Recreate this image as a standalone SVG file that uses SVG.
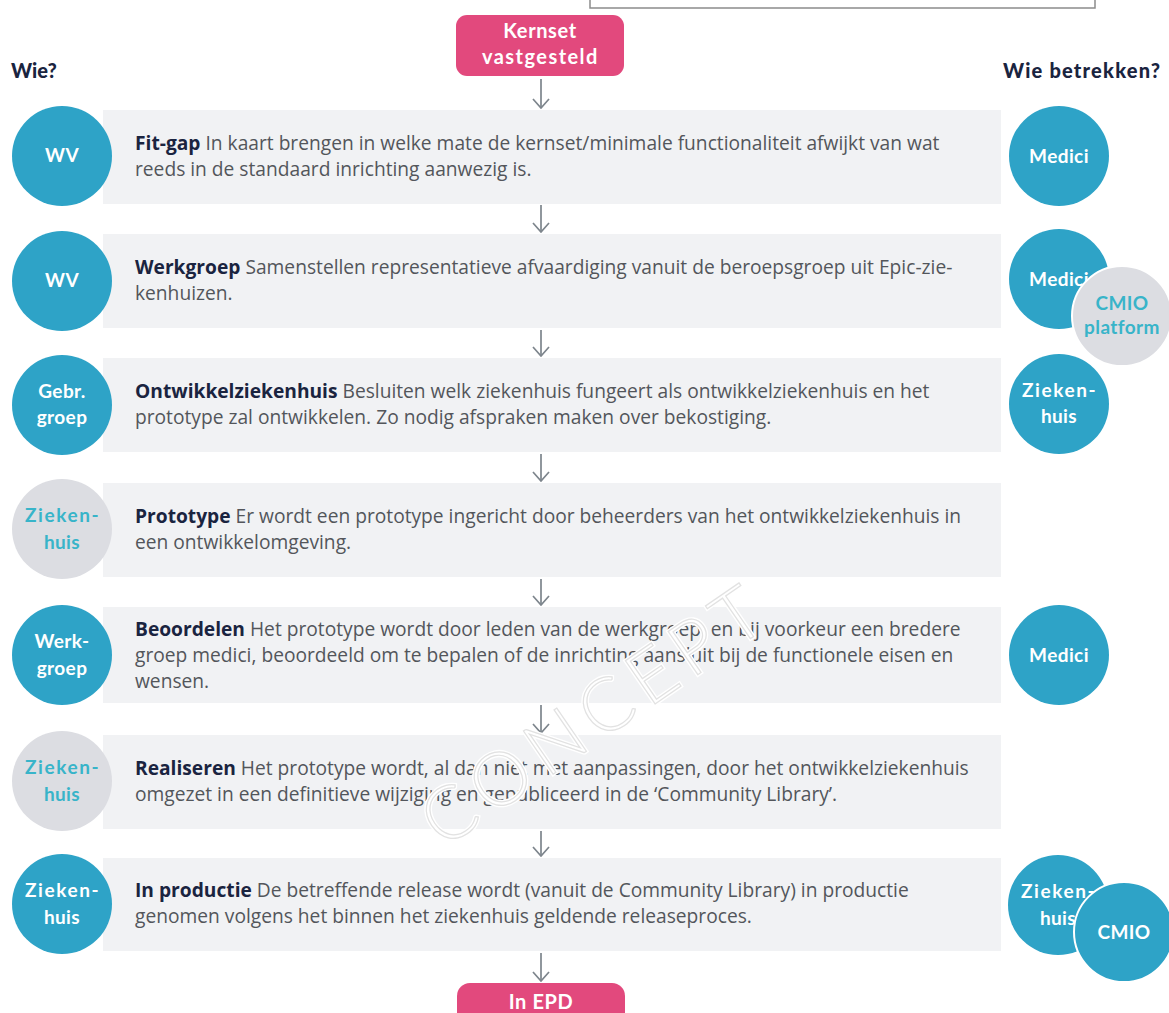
<svg xmlns="http://www.w3.org/2000/svg" width="1169" height="1013" viewBox="0 0 1169 1013">
<defs>
<style>
.band{fill:#f1f2f4}
.pink{fill:#e2497d}
.blue{fill:#2ea3c7}
.grey{fill:#dcdde2}
.ct{font-family:"Lato","Open Sans",sans-serif;font-weight:700;font-size:19px;letter-spacing:0.4px;text-anchor:middle}
.cw{fill:#ffffff}
.cg{fill:#38b4c9}
.body{font-family:"Open Sans","Lato",sans-serif;font-size:19.2px;fill:#53565b}
.b{font-weight:700;fill:#1a2440}
.hdr{font-family:"Lato","Open Sans",sans-serif;font-weight:900;font-size:20px;fill:#1a2440}
.pt{font-family:"Lato","Open Sans",sans-serif;font-weight:700;font-size:20px;letter-spacing:0.6px;fill:#ffffff;text-anchor:middle}
.conn{stroke:#7d858c;stroke-width:1.7;fill:none}
.wm{font-family:"Lato","Open Sans",sans-serif;font-weight:300;font-size:74px;letter-spacing:9px;fill:none}
</style>
<marker id="ah" viewBox="0 0 11 18" refX="10" refY="9" markerWidth="11" markerHeight="18" markerUnits="userSpaceOnUse" orient="auto">
<path d="M1,1 L10,9 L1,17" fill="none" stroke="#7d858c" stroke-width="1.7"/>
</marker>
</defs>
<rect width="1169" height="1013" fill="#ffffff"/>
<path d="M590,0 L590,8 L1095,8 L1095,0" fill="none" stroke="#8c8c8c" stroke-width="1.5"/>

<text class="hdr" x="11" y="78">Wie?</text>
<text class="hdr" x="1003" y="78" textLength="157">Wie betrekken?</text>

<g id="start">
<rect class="pink" x="456" y="15" width="168" height="61" rx="11"/>
<text class="pt" x="540" y="38">Kernset</text>
<text class="pt" x="540" y="64" textLength="116">vastgesteld</text>
</g>

<g id="step1">
<rect class="band" x="103" y="110" width="898" height="94"/>
<text class="body" x="135" y="150"><tspan class="b">Fit-gap</tspan> In kaart brengen in welke mate de kernset/minimale functionaliteit afwijkt van wat</text>
<text class="body" x="135" y="176">reeds in de standaard inrichting aanwezig is.</text>
</g>
<g id="who1"><circle class="blue" cx="62" cy="156" r="50"/><text class="ct cw" x="62" y="162" font-size="17">WV</text></g>
<g id="inv1"><circle class="blue" cx="1059" cy="156" r="50"/><text class="ct cw" x="1059" y="163">Medici</text></g>

<g id="step2">
<rect class="band" x="103" y="234" width="898" height="94"/>
<text class="body" x="135" y="274"><tspan class="b">Werkgroep</tspan> Samenstellen representatieve afvaardiging vanuit de beroepsgroep uit Epic-zie-</text>
<text class="body" x="135" y="300">kenhuizen.</text>
</g>
<g id="who2"><circle class="blue" cx="62" cy="281" r="50"/><text class="ct cw" x="62" y="287" font-size="17">WV</text></g>
<g id="inv2"><circle class="blue" cx="1059" cy="279" r="50"/><text class="ct cw" x="1059" y="286">Medici</text></g>
<g id="inv2b"><circle class="grey" cx="1122" cy="316" r="50" stroke="#ffffff" stroke-width="2"/><text class="ct cg" x="1122" y="310">CMIO</text><text class="ct cg" x="1122" y="334">platform</text></g>

<g id="step3">
<rect class="band" x="103" y="358" width="898" height="94"/>
<text class="body" x="135" y="398"><tspan class="b">Ontwikkelziekenhuis</tspan> Besluiten welk ziekenhuis fungeert als ontwikkelziekenhuis en het</text>
<text class="body" x="135" y="424">prototype zal ontwikkelen. Zo nodig afspraken maken over bekostiging.</text>
</g>
<g id="who3"><circle class="blue" cx="62" cy="405" r="50"/><text class="ct cw" x="62" y="398">Gebr.</text><text class="ct cw" x="62" y="424">groep</text></g>
<g id="inv3"><circle class="blue" cx="1059" cy="404" r="50"/><text class="ct cw" x="1059" y="397" textLength="74">Zieken-</text><text class="ct cw" x="1059" y="423">huis</text></g>

<g id="step4">
<rect class="band" x="103" y="483" width="898" height="94"/>
<text class="body" x="135" y="523"><tspan class="b">Prototype</tspan> Er wordt een prototype ingericht door beheerders van het ontwikkelziekenhuis in</text>
<text class="body" x="135" y="549">een ontwikkelomgeving.</text>
</g>
<g id="who4"><circle class="grey" cx="62" cy="529" r="50"/><text class="ct cg" x="62" y="522" textLength="74">Zieken-</text><text class="ct cg" x="62" y="549">huis</text></g>

<g id="step5">
<rect class="band" x="103" y="607" width="898" height="96"/>
<text class="body" x="135" y="636"><tspan class="b">Beoordelen</tspan> Het prototype wordt door leden van de werkgroep, en bij voorkeur een bredere</text>
<text class="body" x="135" y="662">groep medici, beoordeeld om te bepalen of de inrichting aansluit bij de functionele eisen en</text>
<text class="body" x="135" y="688">wensen.</text>
</g>
<g id="who5"><circle class="blue" cx="62" cy="655" r="50"/><text class="ct cw" x="62" y="648">Werk-</text><text class="ct cw" x="62" y="675">groep</text></g>
<g id="inv5"><circle class="blue" cx="1059" cy="655" r="50"/><text class="ct cw" x="1059" y="662">Medici</text></g>

<g id="step6">
<rect class="band" x="103" y="735" width="898" height="94"/>
<text class="body" x="135" y="775"><tspan class="b">Realiseren</tspan> Het prototype wordt, al dan niet met aanpassingen, door het ontwikkelziekenhuis</text>
<text class="body" x="135" y="801">omgezet in een definitieve wijziging en gepubliceerd in de ‘Community Library’.</text>
</g>
<g id="who6"><circle class="grey" cx="62" cy="781" r="50"/><text class="ct cg" x="62" y="774" textLength="74">Zieken-</text><text class="ct cg" x="62" y="801">huis</text></g>

<g id="step7">
<rect class="band" x="103" y="858" width="898" height="93"/>
<text class="body" x="135" y="897"><tspan class="b">In productie</tspan> De betreffende release wordt (vanuit de Community Library) in productie</text>
<text class="body" x="135" y="923">genomen volgens het binnen het ziekenhuis geldende releaseproces.</text>
</g>
<g id="who7"><circle class="blue" cx="62" cy="904" r="50"/><text class="ct cw" x="62" y="897" textLength="74">Zieken-</text><text class="ct cw" x="62" y="924">huis</text></g>
<g id="inv7"><circle class="blue" cx="1058" cy="905" r="50"/><text class="ct cw" x="1058" y="898" textLength="74">Zieken-</text><text class="ct cw" x="1058" y="925">huis</text></g>
<g id="inv7b"><circle class="blue" cx="1124" cy="932" r="50" stroke="#ffffff" stroke-width="2"/><text class="ct cw" x="1124" y="939">CMIO</text></g>

<g id="end">
<rect class="pink" x="457" y="983" width="168" height="45" rx="13"/>
<text class="pt" x="541" y="1009" font-size="21">In EPD</text>
</g>

<g id="connectors">
<line class="conn" x1="541" y1="79" x2="541" y2="108" marker-end="url(#ah)"/>
<line class="conn" x1="541" y1="205" x2="541" y2="232" marker-end="url(#ah)"/>
<line class="conn" x1="541" y1="330" x2="541" y2="356" marker-end="url(#ah)"/>
<line class="conn" x1="541" y1="454" x2="541" y2="481" marker-end="url(#ah)"/>
<line class="conn" x1="541" y1="579" x2="541" y2="605" marker-end="url(#ah)"/>
<line class="conn" x1="541" y1="705" x2="541" y2="733" marker-end="url(#ah)"/>
<line class="conn" x1="541" y1="831" x2="541" y2="856" marker-end="url(#ah)"/>
<line class="conn" x1="541" y1="953" x2="541" y2="981" marker-end="url(#ah)"/>
</g>

<text class="wm" x="610" y="735" text-anchor="middle" transform="rotate(-34.5 610 735)" stroke="#ffffff" stroke-width="4">CONCEPT</text>
<text class="wm" x="610" y="735" text-anchor="middle" transform="rotate(-34.5 610 735)" stroke="#e2e2e2" stroke-width="1.2">CONCEPT</text>
</svg>
